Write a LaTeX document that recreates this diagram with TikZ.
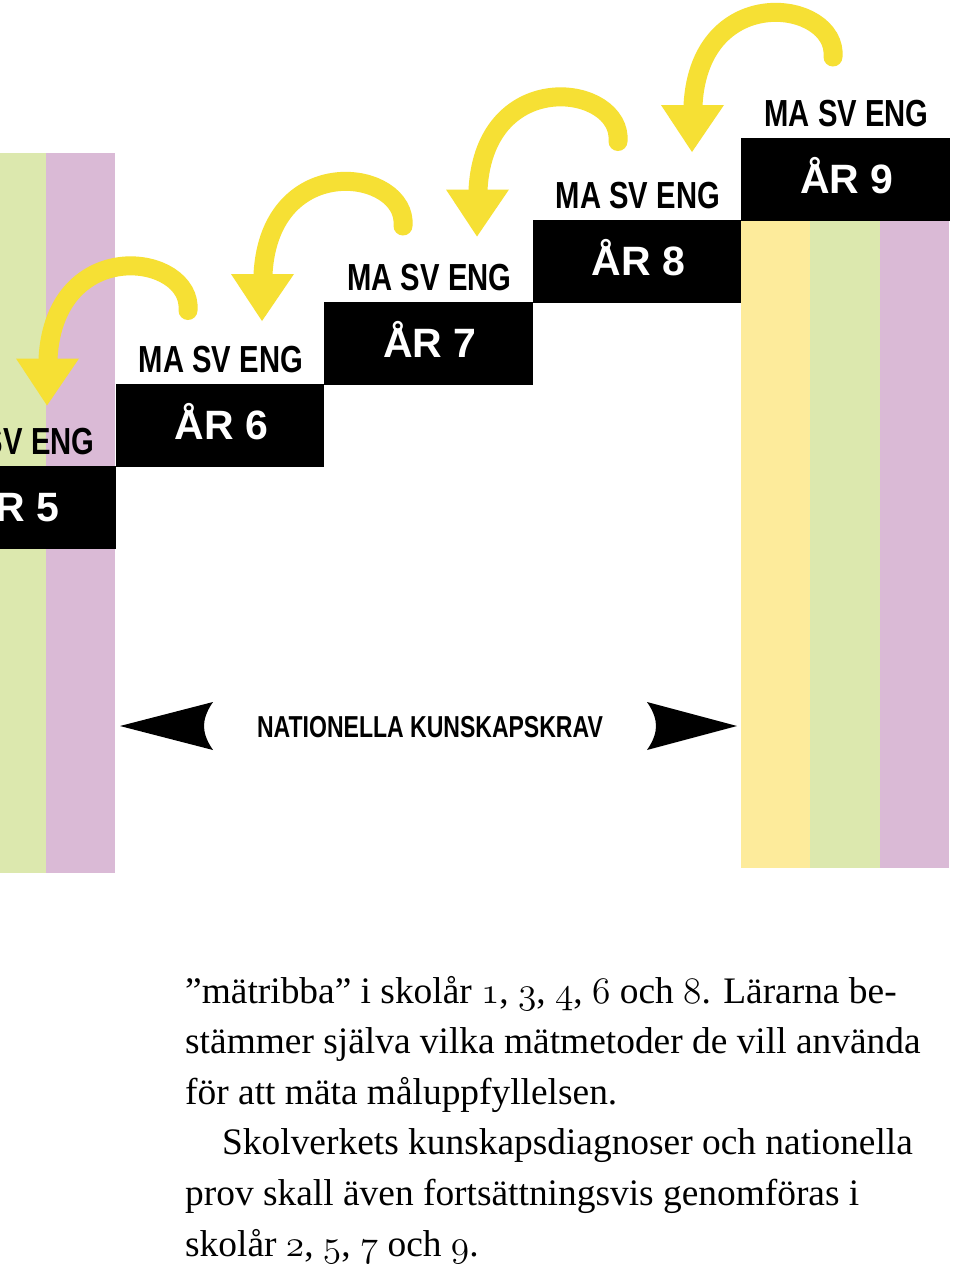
\RequirePackage{fix-cm}
\documentclass[tikz,border=0pt]{standalone}
\usepackage{fontspec}
\usepackage{graphicx}
\setmainfont{Liberation Serif}
\newfontfamily\hsans{Liberation Sans}
\usetikzlibrary{calc}
\definecolor{arrowyel}{RGB}{246,224,52}
\definecolor{colyel}{RGB}{253,235,155}
\definecolor{colgrn}{RGB}{220,232,174}
\definecolor{colpur}{RGB}{218,186,214}
\newcommand\condtxt[1]{\scalebox{0.775}[1]{#1}}
\newcommand\osn[1]{\ensuremath{\mathnormal{#1}}}
\begin{document}
\begin{tikzpicture}[x=1pt,y=-1pt,
  yearbox/.style={fill=black, draw=none, minimum width=208.5pt, minimum height=83pt, inner sep=0pt, anchor=north west},
  subj/.style={anchor=base, inner sep=0pt, font=\hsans\bfseries\fontsize{37.7}{40}\selectfont},
  yeartxt/.style={anchor=base, inner sep=0pt, text=white, font=\hsans\bfseries\fontsize{41}{44}\selectfont},
  yarrow/.style={draw=arrowyel, line width=19pt, line cap=round},
  yhead/.style={fill=arrowyel, draw=none},
  bodyline/.style={anchor=base west, inner sep=0pt, font=\fontsize{37.4}{50.6}\selectfont},
]
\useasboundingbox (0,0) rectangle (960,1267);
\clip (0,0) rectangle (960,1267);
\fill[white] (0,0) rectangle (960,1267);
% columns
\fill[colyel] (-93,153) rectangle (-24,873);
\fill[colgrn] (-24,153) rectangle (46,873);
\fill[colpur] (46,153) rectangle (115,873);
\fill[colyel] (741,221) rectangle (810,868);
\fill[colgrn] (810,221) rectangle (880,868);
\fill[colpur] (880,221) rectangle (949,868);
% year boxes
\foreach \k/\i in {9/0,8/1,7/2,6/3,5/4} {
  \pgfmathsetmacro\bx{741-208.5*\i}
  \pgfmathsetmacro\by{138+82*\i}
  \node[yearbox] (box\k) at (\bx,\by) {};
  \node[yeartxt] (yr\k) at ($(box\k.north)+(1.5,55)$) {ÅR \k};
  \node[subj] (sub\k) at ($(box\k.north)+(1,-12)$) {\condtxt{MA SV ENG}};
}
% yellow arrows
\foreach \i in {0,1,2,3} {
  \coordinate (tail\i) at (833-215*\i, 57+84.5*\i);
  \coordinate (ctlA\i) at ($(tail\i)+(5,-57)$);
  \coordinate (ctlB\i) at ($(tail\i)+(-133,-77)$);
  \coordinate (head\i) at ($(tail\i)+(-140,48)$);
  \draw[yarrow] (tail\i) .. controls (ctlA\i) and (ctlB\i) .. (head\i);
  \fill[arrowyel] ($(tail\i)+(-172,48)$) -- ($(tail\i)+(-109,48)$) -- ($(tail\i)+(-141,95)$) -- cycle;
}
% national requirements
\node[anchor=base, inner sep=0pt, font=\hsans\bfseries\fontsize{30.3}{32}\selectfont] (nk) at (430,737) {\scalebox{0.76}[1]{NATIONELLA KUNSKAPSKRAV}};
\fill (120,726) -- (213,702) .. controls (206,712) and (204,720) .. (204,726) .. controls (204,732) and (206,740) .. (213,750) -- cycle;
\fill (737,726) -- (647,750) .. controls (654,740) and (656,732) .. (656,726) .. controls (656,720) and (654,712) .. (647,702) -- cycle;
% body text
\node[bodyline] (l1) at (185,1003) {”mätribba” i skolår \osn{1}, \osn{3}, \osn{4}, \osn{6} och \osn{8}. Lärarna be-};
\node[bodyline] (l2) at (185,1053.6) {stämmer själva vilka mätmetoder de vill använda};
\node[bodyline] (l3) at (185,1104.2) {för att mäta måluppfyllelsen.};
\node[bodyline] (l4) at (222,1154.8) {Skolverkets kunskapsdiagnoser och nationella};
\node[bodyline] (l5) at (185,1205.4) {prov skall även fortsättningsvis genomföras i};
\node[bodyline] (l6) at (185,1256) {skolår \osn{2}, \osn{5}, \osn{7} och \osn{9}.};
\end{tikzpicture}
\end{document}
